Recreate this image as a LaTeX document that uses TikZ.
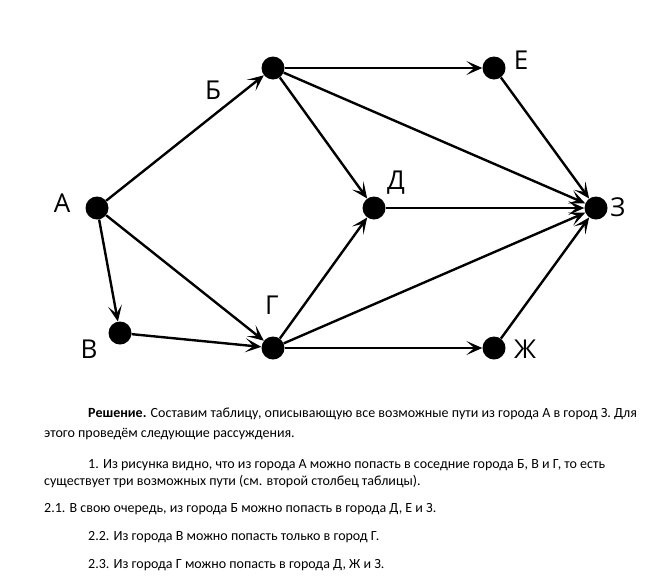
\documentclass[tikz,border=0pt]{standalone}
\usepackage{fontspec}
\setmainfont{Carlito}
\newfontfamily\townfont{Open Sans}
\usetikzlibrary{arrows.meta}

\tikzset{
  city/.style={circle,fill=black,inner sep=0pt,minimum size=23pt},
  road/.style={-{Stealth[length=16pt,width=14pt,inset=8pt]},line width=2.4pt},
  town/.style={inner sep=0pt,font=\townfont\fontsize{26}{26}\selectfont},
  txt/.style={anchor=base west,inner sep=0pt,font=\fontsize{14}{16}\selectfont}
}

\begin{document}
\begin{tikzpicture}[x=1pt,y=-1pt]
\useasboundingbox (0,0) rectangle (660,579);
% cities
\node[city] (A) at (97,208) {};
\node[city] (B) at (273,68) {};
\node[city] (E) at (494,68) {};
\node[city] (D) at (374,208) {};
\node[city] (Z) at (596,208) {};
\node[city] (V) at (120,333) {};
\node[city] (G) at (273,348) {};
\node[city] (Zh) at (494,348) {};
% names
\node[town] (lA) at (62,203) {А};
\node[town] (lB) at (213,90) {Б};
\node[town] (lE) at (521,60) {Е};
\node[town] (lD) at (396,183) {Д};
\node[town] (lZ) at (618,207) {З};
\node[town] (lV) at (89,349) {В};
\node[town] (lG) at (272,305) {Г};
\node[town] (lZh) at (525,349) {Ж};
% roads
\draw[road] (A) -- (B);
\draw[road] (A) -- (V);
\draw[road] (A) -- (G);
\draw[road] (B) -- (E);
\draw[road] (B) -- (D);
\draw[road] (B) -- (Z);
\draw[road] (E) -- (Z);
\draw[road] (D) -- (Z);
\draw[road] (V) -- (G);
\draw[road] (G) -- (D);
\draw[road] (G) -- (Z);
\draw[road] (G) -- (Zh);
\draw[road] (Zh) -- (Z);
% text
\node[txt] (t1) at (88,417) {\textbf{Решение.} Составим таблицу, описывающую все возможные пути из города А в город З. Для};
\node[txt] (t2) at (44,437) {этого проведём следующие рассуждения.};
\node[txt] (t3) at (88,468) {1. Из рисунка видно, что из города А можно попасть в соседние города Б, В и Г, то есть};
\node[txt] (t4) at (44,485) {существует три возможных пути (см. второй столбец таблицы).};
\node[txt] (t5) at (44,512) {2.1. В свою очередь, из города Б можно попасть в города Д, Е и З.};
\node[txt] (t6) at (88,540) {2.2. Из города В можно попасть только в город Г.};
\node[txt] (t7) at (88,568) {2.3. Из города Г можно попасть в города Д, Ж и З.};
\end{tikzpicture}
\end{document}
